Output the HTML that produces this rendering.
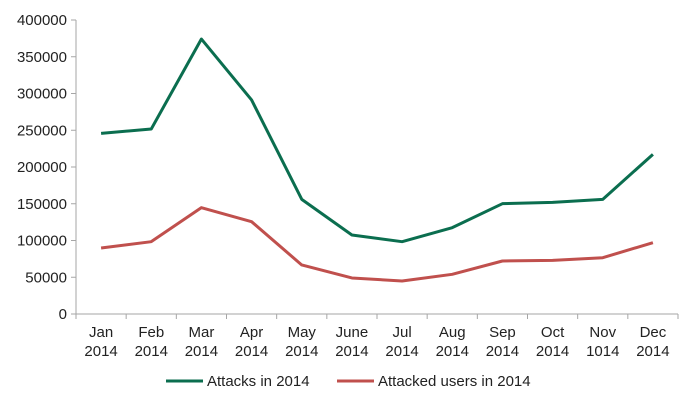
<!DOCTYPE html>
<html><head><meta charset="utf-8"><style>
body{margin:0;background:#fff}
svg text{font-family:"Liberation Sans",Arial,sans-serif;font-size:15px;fill:#222}
</style></head><body>
<svg id="chart" width="695" height="405" xmlns="http://www.w3.org/2000/svg"></svg>
<script>
const categories=["Jan 2014","Feb 2014","Mar 2014","Apr 2014","May 2014","June 2014","Jul 2014","Aug 2014","Sep 2014","Oct 2014","Nov 1014","Dec 2014"];
const attacks=[245800,251700,374100,291200,156000,107500,98400,117500,150100,151900,156000,217200];
const users=[89800,98400,144700,125600,66700,49000,44900,54000,72100,73000,76600,97100];
const yTicks=[0,50000,100000,150000,200000,250000,300000,350000,400000];
const svg=document.getElementById('chart');
const NS='http://www.w3.org/2000/svg';
const L=76,R=678,T=20,B=314,yMax=400000;
const band=(R-L)/categories.length;
const x=i=>L+band*(i+0.5);
const y=v=>B-(v/yMax)*(B-T);
function mk(tag,attrs){const e=document.createElementNS(NS,tag);for(const k in attrs)e.setAttribute(k,attrs[k]);svg.appendChild(e);return e;}
let e;
e=mk('line',{x1:L,y1:T,x2:L,y2:B,stroke:'#a6a6a6','stroke-width':1});


e=mk('line',{x1:L,y1:B,x2:R,y2:B,stroke:'#a6a6a6','stroke-width':1});


yTicks.forEach(v=>{
 e=mk('line',{x1:L-5,y1:y(v),x2:L,y2:y(v),stroke:'#a6a6a6'});
 
 
 e=mk('text',{x:L-9,y:y(v)+5,'text-anchor':'end'});e.textContent=v;
 
 
});
for(let i=0;i<=categories.length;i++){
 e=mk('line',{x1:L+band*i,y1:B,x2:L+band*i,y2:B+5,stroke:'#a6a6a6'});
 
 
}
categories.forEach((c,i)=>{
 const p=c.split(' ');
 e=mk('text',{x:x(i),y:337,'text-anchor':'middle'});e.textContent=p[0];
 
 
 e=mk('text',{x:x(i),y:356,'text-anchor':'middle'});e.textContent=p[1];
 
 
});
function line(data,color,name){
 const pts=data.map((v,i)=>x(i)+','+y(v)).join(' ');
 const el=mk('polyline',{points:pts,fill:'none',stroke:color,'stroke-width':3,'stroke-linejoin':'round'});
 
 
}
line(attacks,'#0b6e4f','attacks-line');
line(users,'#c0504d','attacked-users-line');
e=mk('line',{x1:166,y1:381,x2:203,y2:381,stroke:'#0b6e4f','stroke-width':3});


e=mk('text',{x:207,y:386});e.textContent='Attacks in 2014';


e=mk('line',{x1:337,y1:381,x2:374,y2:381,stroke:'#c0504d','stroke-width':3});


e=mk('text',{x:378,y:386});e.textContent='Attacked users in 2014';


</script>
</body></html>
